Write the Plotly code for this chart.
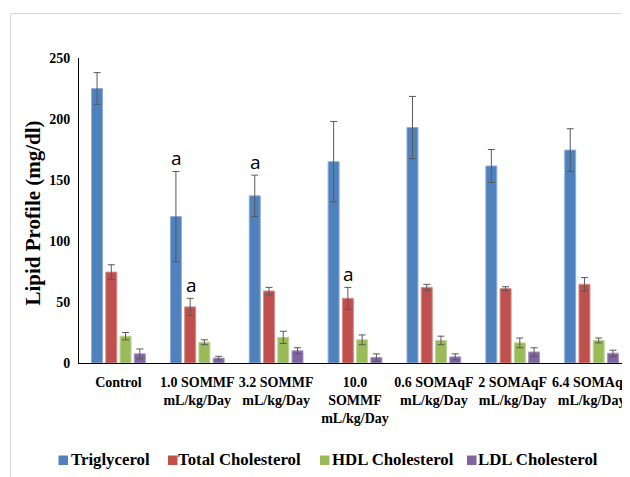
import plotly.graph_objects as go

categories = ["Control", "1.0 SOMMF<br>mL/kg/Day", "3.2 SOMMF<br>mL/kg/Day",
              "10.0<br>SOMMF<br>mL/kg/Day", "0.6 SOMAqF<br>mL/kg/Day",
              "2 SOMAqF<br>mL/kg/Day", "6.4 SOMAqF<br>mL/kg/Day"]

triglycerol = [225, 120, 137, 165, 193, 161.5, 174.5]
triglycerol_sd = [13, 37, 17, 33, 25.5, 13.5, 17.5]
total_chol = [74.5, 46, 59, 53, 62, 61, 64.5]
total_chol_sd = [6, 7, 3, 9, 2.5, 1.5, 5.5]
hdl_chol = [22, 17, 21, 19, 18.5, 16.5, 18.5]
hdl_chol_sd = [3, 2, 5, 4, 3.5, 4, 2]
ldl_chol = [7.5, 4, 10, 4.5, 5, 9, 8]
ldl_chol_sd = [4, 1.5, 2.5, 3, 2.5, 3.5, 2.5]

series_names = ["Triglycerol", "Total Cholesterol", "HDL Cholesterol", "LDL Cholesterol"]
series_values = [triglycerol, total_chol, hdl_chol, ldl_chol]
series_sd = [triglycerol_sd, total_chol_sd, hdl_chol_sd, ldl_chol_sd]
colors = ["#4F81BD", "#C0504D", "#9BBB59", "#8064A2"]
edge_colors = ["#8EAEDA", "#D98A88", "#BDD496", "#A995C4"]

y_title = "Lipid Profile (mg/dl)"

# significance markers: (series index, category index)
sig_marks = [(0, 1), (0, 2), (1, 1), (1, 3)]

serif = "Liberation Serif, Times New Roman, serif"

fig = go.Figure()
for name, vals, sd, c, ec in zip(series_names, series_values, series_sd, colors, edge_colors):
    fig.add_trace(go.Bar(
        name=name, x=categories, y=vals,
        marker=dict(color=c, line=dict(color=ec, width=1)),
        error_y=dict(type="data", array=sd, visible=True, color="#595959",
                     thickness=1, width=3.5),
    ))

W, H = 630, 477
ml, mr, mt, mb = 71, 7, 50, 122
bargap = 0.277
bargroupgap = 0.23
pw = W - ml - mr
ph = H - mt - mb
cat_px = pw / len(categories)
slot = cat_px * (1 - bargap) / len(series_names)

def px_to_paper_x(px):
    return (px - ml) / pw

def px_to_paper_y(py):
    return (H - mb - py) / ph

annotations = []
for si, ci in sig_marks:
    off = (si - (len(series_names) - 1) / 2) * slot
    annotations.append(dict(
        x=categories[ci], y=series_values[si][ci] + series_sd[si][ci],
        xref="x", yref="y", text="a", showarrow=False,
        xshift=off + 1, yshift=-2, yanchor="bottom",
        font=dict(family="Open Sans, Noto Sans, sans-serif", size=19, color="black"),
    ))

# y-axis title
annotations.append(dict(
    x=px_to_paper_x(24), y=px_to_paper_y(205.5), xref="paper", yref="paper",
    text="<b>" + y_title + "</b>", textangle=-90, showarrow=False,
    xanchor="center", yanchor="middle",
    font=dict(family=serif, size=21, color="black"),
))

# legend (drawn as text + colour swatches, laid out like the original)
legend_swatch_x = [50.5, 160.0, 312.0, 459.0]
legend_text_x = [60.7, 168.3, 321.7, 468.3]
legend_cy = 451.5
shapes = [dict(type="rect", xref="paper", yref="paper",
               x0=px_to_paper_x(2.5), x1=px_to_paper_x(660),
               y0=px_to_paper_y(490), y1=px_to_paper_y(5.5),
               line=dict(color="#D9D9D9", width=1), layer="below")]
for name, c, sx, tx in zip(series_names, colors, legend_swatch_x, legend_text_x):
    shapes.append(dict(type="rect", xref="paper", yref="paper",
                       x0=px_to_paper_x(sx), x1=px_to_paper_x(sx + 9.5),
                       y0=px_to_paper_y(legend_cy + 5.5), y1=px_to_paper_y(legend_cy - 4),
                       fillcolor=c, line=dict(width=0)))
    annotations.append(dict(
        x=px_to_paper_x(tx), y=px_to_paper_y(legend_cy), xref="paper", yref="paper",
        text="<b>" + name + "</b>", showarrow=False, xanchor="left", yanchor="middle",
        font=dict(family=serif, size=16.8, color="black"),
    ))

fig.update_layout(
    width=W, height=H,
    margin=dict(l=ml, r=mr, t=mt, b=mb, autoexpand=False),
    paper_bgcolor="white", plot_bgcolor="white",
    barmode="group", bargap=bargap, bargroupgap=bargroupgap,
    showlegend=False,
    annotations=annotations,
    shapes=shapes,
)
fig.update_xaxes(showline=True, linecolor="black", linewidth=1, ticks="",
                 showgrid=False, ticklabelstandoff=6, automargin=False,
                 tickfont=dict(family=serif, size=14, color="black", weight="bold"))
fig.update_yaxes(range=[0, 250], dtick=50, showline=True, linecolor="black", linewidth=1,
                 ticks="", showgrid=False, zeroline=False, ticklabelstandoff=5,
                 automargin=False,
                 tickfont=dict(family=serif, size=14, color="black", weight="bold"))

fig.write_html("out.html")
